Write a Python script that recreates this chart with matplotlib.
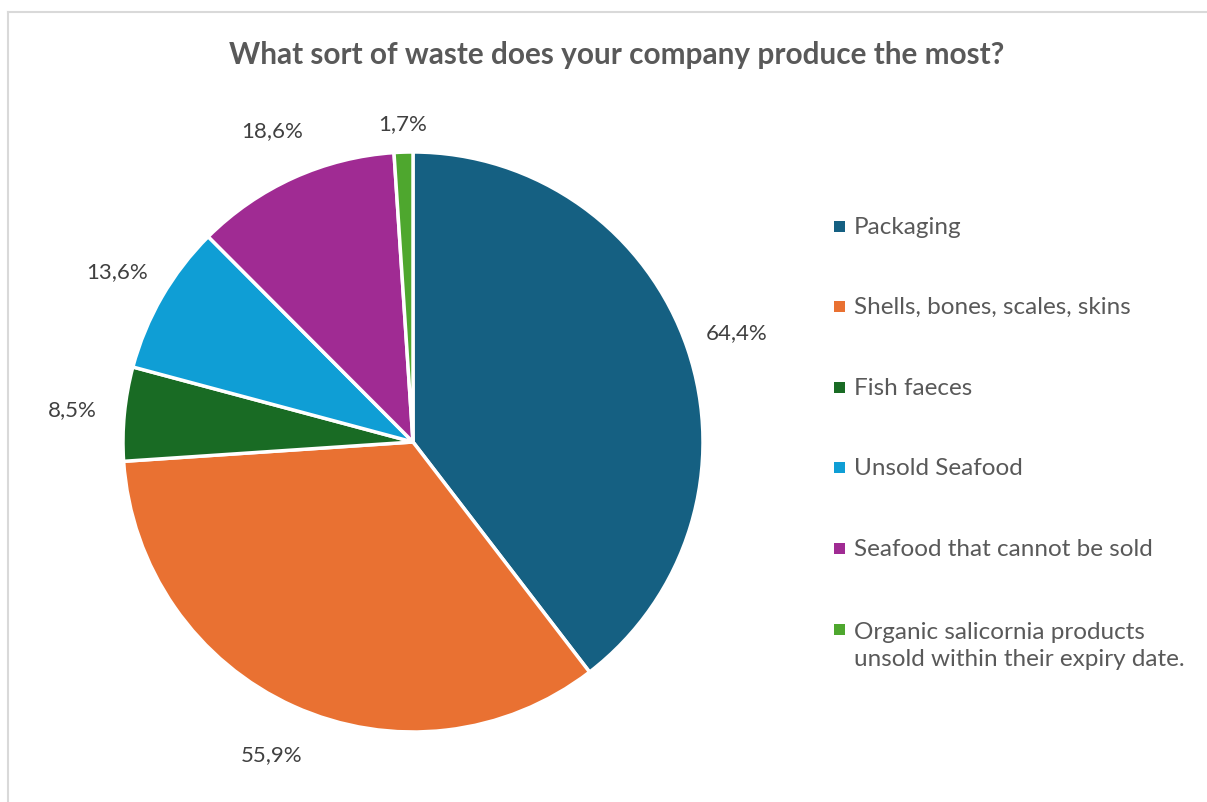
import matplotlib
matplotlib.use("Agg")
import matplotlib.pyplot as plt
from matplotlib.patches import Rectangle
from matplotlib.lines import Line2D

# Survey answers (multiple choice, so percentages sum to more than 100)
categories = ["Packaging", "Shells, bones, scales, skins", "Fish faeces",
              "Unsold Seafood", "Seafood that cannot be sold",
              "Organic salicornia products\nunsold within their expiry date."]
values = [64.4, 55.9, 8.5, 13.6, 18.6, 1.7]
colors = ["#156082", "#E97132", "#196B24", "#0F9ED5", "#A02B93", "#4EA72E"]

plt.rcParams["font.family"] = ["Lato", "DejaVu Sans"]
W, H = 1207, 803
fig = plt.figure(figsize=(W / 100, H / 100), dpi=100)

# chart frame (top and left edges only visible)
fig.lines.append(Line2D([8 / W, 1.0], [1 - 13 / H, 1 - 13 / H], transform=fig.transFigure,
                        color="#D9D9D9", linewidth=1.5))
fig.lines.append(Line2D([8 / W, 8 / W], [0, 1 - 13 / H], transform=fig.transFigure,
                        color="#D9D9D9", linewidth=1.5))

fig.text(617 / W, 1 - 55 / H, "What sort of waste does your company produce the most?",
         ha="center", va="center", fontsize=21.4, fontweight="bold", color="#595959")

# pie axes: center (413, 443), radius 290 px
cx, cy, r = 413, 443, 290
ax = fig.add_axes([(cx - r) / W, (H - cy - r) / H, 2 * r / W, 2 * r / H])
labels = [f"{v:.1f}%".replace(".", ",") for v in values]
wedges, texts = ax.pie(values, colors=colors, startangle=90, counterclock=False,
                       labels=labels, labeldistance=1.18,
                       wedgeprops=dict(edgecolor="white", linewidth=2.5))
for t in texts:
    t.set_ha("center")
    t.set_va("center")
    t.set_fontsize(16)
    t.set_color("#404040")
x, y = texts[-1].get_position()
texts[-1].set_position((x * 1.10 / 1.18, y * 1.10 / 1.18))
ax.set_xlim(-1, 1)
ax.set_ylim(-1, 1)
ax.set_aspect("equal")

# legend
for i, (name, c) in enumerate(zip(categories, colors)):
    y = 227 + i * 80.6
    fig.patches.append(Rectangle((834 / W, 1 - (y + 5.5) / H), 11 / W, 11 / H,
                                 transform=fig.transFigure, facecolor=c,
                                 edgecolor="none"))
    ty = y + 16 if "\n" in name else y
    fig.text(854 / W, 1 - ty / H, name, ha="left", va="center",
             fontsize=17.5, color="#595959", linespacing=1.3)

fig.savefig("out.png", dpi=100, facecolor="white")
